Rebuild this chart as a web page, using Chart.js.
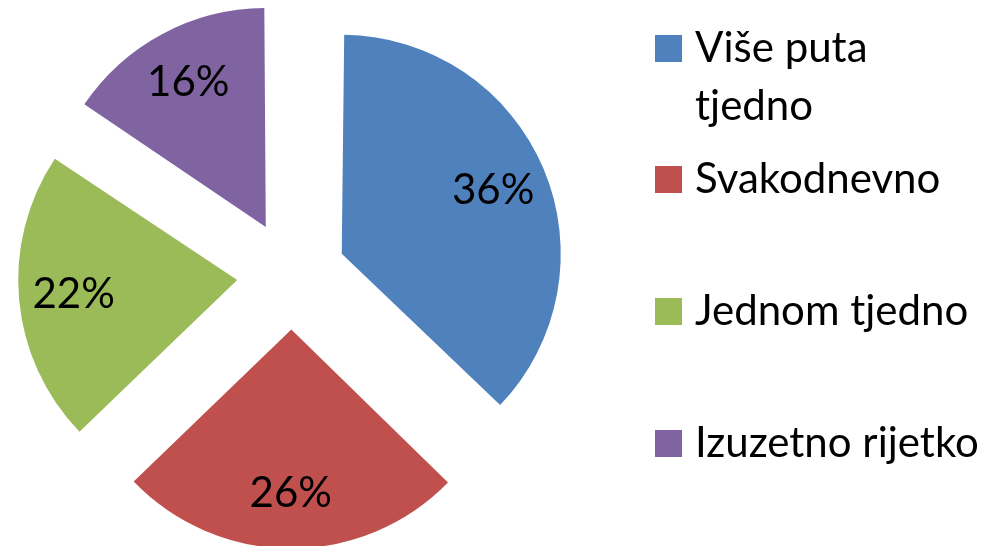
<!DOCTYPE html>
<html>
<head>
<meta charset="utf-8">
<script src="https://cdn.jsdelivr.net/npm/chart.js@4.4.0/dist/chart.umd.min.js"></script>
<style>
  body { margin: 0; background: #fff; }
  #wrap { position: relative; width: 1005px; height: 546px; }
  #legend { position: absolute; left: 0; top: 0; }
  .item { position: absolute; left: 655px; font-family: Lato, sans-serif; font-size: 42px; line-height: 58px; color: #000; }
  .box { position: absolute; left: 0; top: 18px; width: 27px; height: 27px; }
  .txt { position: absolute; left: 40px; top: 0; width: 292px; }
</style>
</head>
<body>
<div id="wrap">
  <canvas id="chart_pie" width="1005" height="546"></canvas>
  <div id="legend"></div>
</div>
<script>
var categories = ['Više puta tjedno', 'Svakodnevno', 'Jednom tjedno', 'Izuzetno rijetko'];
// slice sizes as drawn in the picture
var shares = [37.2, 25.4, 21.5, 15.6];
// percentages printed on the slices
var percents = [36, 26, 22, 16];
var colors = ['#4F81BD', '#C0504D', '#9BBB59', '#8064A2'];

var R = 219;          // pie radius
var EXPLODE = 218;    // chart.js moves a slice by offset / 4
var LABEL_POS = 0.75;

// chart.js also grows the radius of exploded slices, undo that
var fixRadius = {
  id: 'fixRadius',
  afterDatasetUpdate: function (chart, args) {
    args.meta.data.forEach(function (arc) {
      var fix = 1 - Math.sin(Math.min(Math.PI, arc.circumference));
      arc.outerRadius = R - EXPLODE / 4 * fix;
    });
  }
};

var sliceLabels = {
  id: 'sliceLabels',
  afterDatasetsDraw: function (chart) {
    var ctx = chart.ctx;
    var meta = chart.getDatasetMeta(0);
    ctx.save();
    ctx.font = '42px Lato';
    ctx.fillStyle = '#000';
    ctx.textAlign = 'center';
    ctx.textBaseline = 'middle';
    meta.data.forEach(function (arc, i) {
      var mid = (arc.startAngle + arc.endAngle) / 2;
      var d = EXPLODE / 4 + LABEL_POS * R;
      ctx.fillText(percents[i] + '%', arc.x + Math.cos(mid) * d, arc.y + Math.sin(mid) * d);
    });
    ctx.restore();
  }
};

var chart_pie = new Chart(document.getElementById('chart_pie'), {
  type: 'pie',
  data: {
    labels: categories,
    datasets: [{
      data: shares,
      backgroundColor: colors,
      borderWidth: 0,
      offset: EXPLODE,
      hoverOffset: 0
    }]
  },
  options: {
    animation: false,
    responsive: false,
    radius: R,
    layout: { padding: { left: 1, right: 423, top: 4, bottom: 0 } },
    plugins: {
      legend: { display: false },
      tooltip: { enabled: false }
    }
  },
  plugins: [fixRadius, sliceLabels]
});

var legend = document.getElementById('legend');
categories.forEach(function (name, i) {
  var item = document.createElement('div');
  item.className = 'item';
  item.style.top = (16.7 + i * 131.7) + 'px';
  var box = document.createElement('div');
  box.className = 'box';
  box.style.background = colors[i];
  var txt = document.createElement('div');
  txt.className = 'txt';
  txt.textContent = name;
  item.appendChild(box);
  item.appendChild(txt);
  legend.appendChild(item);
});
</script>
</body>
</html>
